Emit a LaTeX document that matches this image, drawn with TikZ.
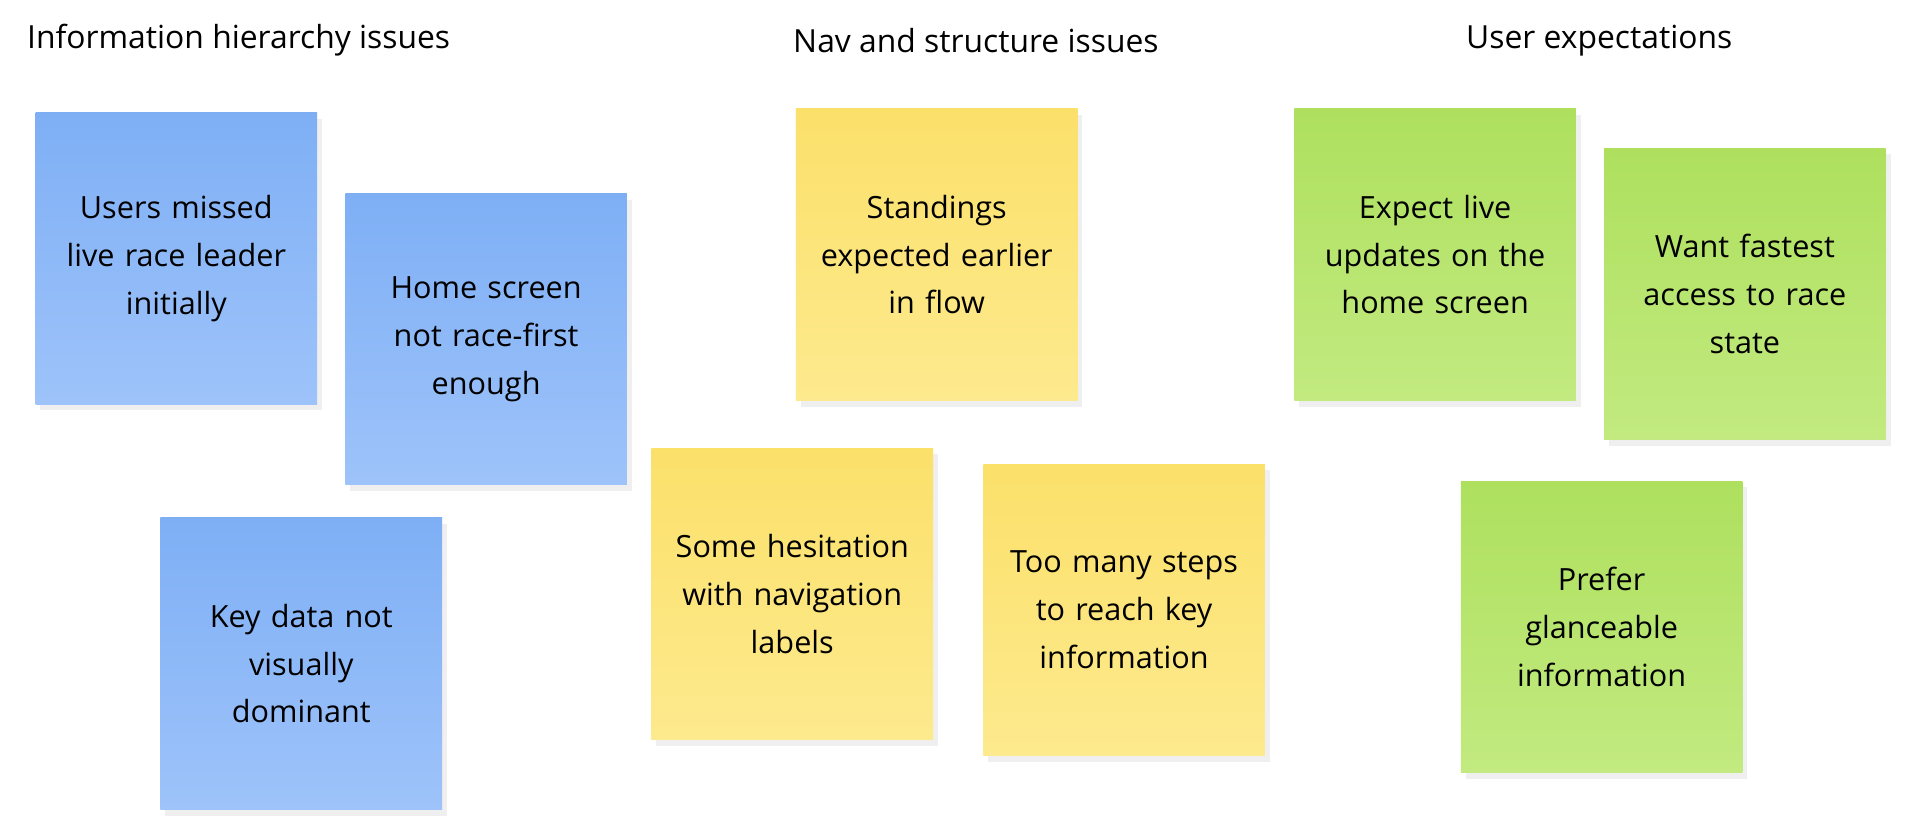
\documentclass[tikz,border=0pt]{standalone}
\usepackage{fontspec}
\setmainfont{Open Sans}
\usetikzlibrary{shadows}
\definecolor{bT}{HTML}{7EAFF5}\definecolor{bB}{HTML}{9EC3FA}
\definecolor{yT}{HTML}{FBE06A}\definecolor{yB}{HTML}{FDEA8E}
\definecolor{gT}{HTML}{AEE05E}\definecolor{gB}{HTML}{C2EA80}
\begin{document}
\begin{tikzpicture}[x=1pt,y=-1pt,
 note/.style={minimum width=230pt,minimum height=238pt,inner sep=0pt,align=center,
   font=\fontsize{25}{39}\selectfont,text width=215pt,
   drop shadow={shadow xshift=4pt,shadow yshift=-5pt,opacity=0.12}},
 blue/.style={note,top color=bT,bottom color=bB},
 yel/.style={note,top color=yT,bottom color=yB},
 grn/.style={note,top color=gT,bottom color=gB},
 head/.style={font=\fontsize{26}{30}\selectfont,inner sep=0pt}]
\useasboundingbox[fill=white] (0,0) rectangle (1568,675);
\node[head,anchor=west] (h1) at (22,33) {Information hierarchy issues};
\node[head] (h2) at (797,33) {Nav and structure issues};
\node[head] (h3) at (1306,33) {User expectations};
\node[blue] (b1) at (144,211) {Users missed\\live race leader\\initially};
\node[blue] (b2) at (397,277) {Home screen\\not race-first\\enough};
\node[blue] (b3) at (246,542) {Key data not\\visually\\dominant};
\node[yel] (y1) at (765,208) {Standings\\expected earlier\\in flow};
\node[yel] (y2) at (647,485) {Some hesitation\\with navigation\\labels};
\node[yel] (y3) at (918,498) {Too many steps\\to reach key\\information};
\node[grn] (g1) at (1172,208) {Expect live\\updates on the\\home screen};
\node[grn] (g2) at (1425,240) {Want fastest\\access to race\\state};
\node[grn] (g3) at (1308,512) {Prefer\\glanceable\\information};
\end{tikzpicture}
\end{document}
